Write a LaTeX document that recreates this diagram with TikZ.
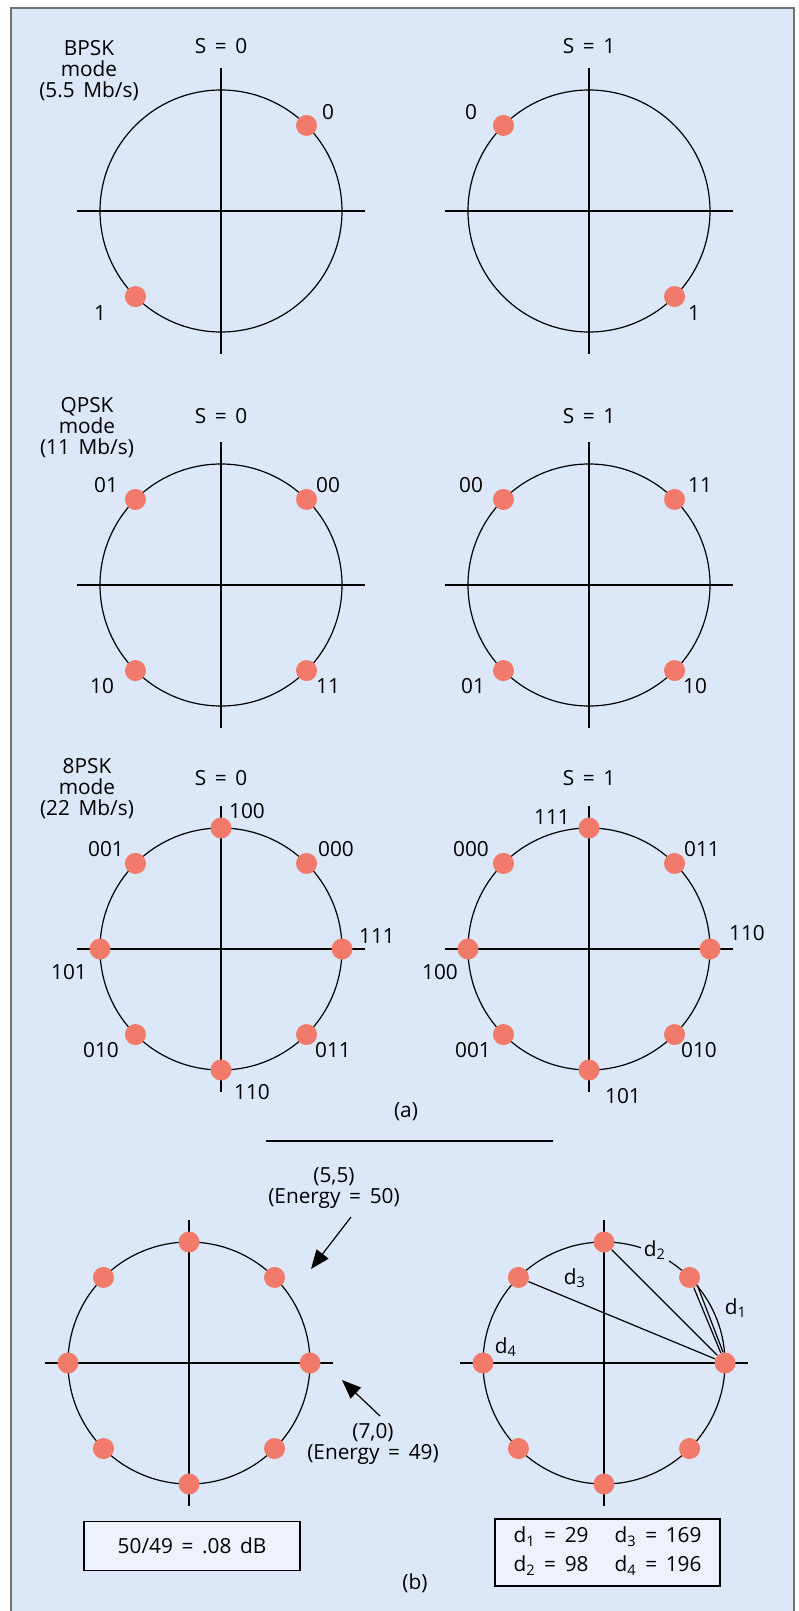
\documentclass[tikz,border=0pt]{standalone}
\usepackage{fontspec}
\setmainfont{Open Sans}[WordSpace=1.6]
\usetikzlibrary{arrows.meta}

\definecolor{panelbg}{HTML}{DCE8F7}
\definecolor{boxbg}{HTML}{EEF3FB}
\definecolor{symred}{HTML}{F17A6A}
\definecolor{framegray}{HTML}{6E7275}

\begin{document}
\begin{tikzpicture}[
    x=0.5pt, y=-0.5pt,
    font=\fontsize{10.4}{10.5}\selectfont,
    axis/.style={line width=0.6pt},
    ring/.style={line width=0.6pt},
    sym/.style={circle, fill=symred, inner sep=0pt, minimum size=10.5pt},
    lbl/.style={inner sep=0pt},
    mode/.style={align=center, inner sep=0pt},
    chord/.style={line width=0.6pt},
    pointer/.style={line width=0.6pt, -{Triangle[length=9.5pt,width=7.5pt]}},
    result/.style={draw, line width=0.6pt, fill=boxbg, inner sep=0pt}
  ]
  \useasboundingbox (0,0) rectangle (798,1611);
  \draw[framegray, line width=0.9pt, fill=panelbg] (11,8) rectangle (794,1630);

  % axes and circles
  \foreach \cx/\cy in {221/211, 589/211, 221/585, 589/585, 221/949, 589/949, 189/1363, 604/1363} {
    \draw[axis] (\cx-144,\cy) -- (\cx+144,\cy);
    \draw[axis] (\cx,\cy-143) -- (\cx,\cy+143);
    \draw[ring] (\cx,\cy) circle[radius=60.5pt];
  }

  % headings
  \node[mode] (bpsk) at (89,71) {BPSK\\mode\\(5.5 Mb/s)};
  \node[mode] (qpsk) at (87,428) {QPSK\\mode\\(11 Mb/s)};
  \node[mode] (epsk) at (87,789) {8PSK\\mode\\(22 Mb/s)};
  \node[lbl] (s-b0) at (221,46) {S = 0};
  \node[lbl] (s-b1) at (589,46) {S = 1};
  \node[lbl] (s-q0) at (221,416) {S = 0};
  \node[lbl] (s-q1) at (589,416) {S = 1};
  \node[lbl] (s-e0) at (221,778) {S = 0};
  \node[lbl] (s-e1) at (589,778) {S = 1};

  % BPSK
  \node[sym] (b0-0) at ([shift={(221,211)}]-45:121) {};
  \node[sym] (b0-1) at ([shift={(221,211)}]135:121) {};
  \node[lbl] at (328,112) {0};
  \node[lbl] at (100,313) {1};
  \node[sym] (b1-0) at ([shift={(589,211)}]-135:121) {};
  \node[sym] (b1-1) at ([shift={(589,211)}]45:121) {};
  \node[lbl] at (471,112) {0};
  \node[lbl] at (694,313) {1};

  % QPSK
  \foreach \a in {45,135,225,315} {
    \node[sym] (q0-\a) at ([shift={(221,585)}]\a:121) {};
    \node[sym] (q1-\a) at ([shift={(589,585)}]\a:121) {};
  }
  \node[lbl] at (328,485) {00};
  \node[lbl] at (106,485) {01};
  \node[lbl] at (102,686) {10};
  \node[lbl] at (328,686) {11};
  \node[lbl] at (471,485) {00};
  \node[lbl] at (700,485) {11};
  \node[lbl] at (473,686) {01};
  \node[lbl] at (695,686) {10};

  % 8PSK
  \foreach \a in {0,45,...,315} {
    \node[sym] (p0-\a) at ([shift={(221,949)}]\a:121) {};
    \node[sym] (p1-\a) at ([shift={(589,949)}]\a:121) {};
  }
  \node[lbl] at (247,811) {100};
  \node[lbl] at (336,849) {000};
  \node[lbl] at (377,936) {111};
  \node[lbl] at (333,1050) {011};
  \node[lbl] at (252,1092) {110};
  \node[lbl] at (101,1050) {010};
  \node[lbl] at (69,972) {101};
  \node[lbl] at (106,849) {001};
  \node[lbl] at (552,817) {111};
  \node[lbl] at (471,849) {000};
  \node[lbl] at (702,849) {011};
  \node[lbl] at (747,933) {110};
  \node[lbl] at (699,1050) {010};
  \node[lbl] at (623,1096) {101};
  \node[lbl] at (473,1050) {001};
  \node[lbl] at (440,972) {100};

  \node[lbl] (cap-a) at (406,1112) {(a)};
  \draw[axis] (266,1141) -- (553,1141);

  % (b) energy and distances
  \foreach \a in {0,45,...,315} {
    \node[sym] (e0-\a) at ([shift={(189,1363)}]\a:121) {};
    \node[sym] (e1-\a) at ([shift={(604,1363)}]\a:121) {};
  }
  \node[mode] (en50) at (334,1188) {(5,5)\\(Energy = 50)};
  \node[mode] (en49) at (373,1444) {(7,0)\\(Energy = 49)};
  \coordinate (a50) at (351,1217);
  \coordinate (t50) at (311,1269);
  \coordinate (a49) at (380,1416);
  \coordinate (t49) at (342,1380);
  \draw[pointer] (a50) -- (t50);
  \draw[pointer] (a49) -- (t49);

  \draw[chord] (e1-0) -- (e1-270);
  \draw[chord] (e1-0) -- (e1-225);
  \draw[chord] (e1-0) -- (e1-315);
  \draw[chord] (e1-0.100) -- (e1-315.-45);
  \node[lbl] (d1) at (736,1308) {d\textsubscript{1}};
  \node[lbl, fill=panelbg, inner sep=1.5pt] (d2) at (655,1250) {d\textsubscript{2}};
  \node[lbl] (d3) at (575,1278) {d\textsubscript{3}};
  \node[lbl] (d4) at (506,1347) {d\textsubscript{4}};

  \node[result, minimum width=108pt, minimum height=24.5pt] (ratio) at (192,1546) {50/49 = .08 dB};
  \node[result, minimum width=112.5pt, minimum height=33.5pt] (dist) at (607.5,1552.5)
    {\begin{tabular}{@{}l@{\hspace{13pt}}l@{}}
      d\textsubscript{1} = 29 & d\textsubscript{3} = 169\\[3.5pt]
      d\textsubscript{2} = 98 & d\textsubscript{4} = 196
    \end{tabular}};
  \node[lbl] (cap-b) at (415,1583) {(b)};
\end{tikzpicture}
\end{document}
